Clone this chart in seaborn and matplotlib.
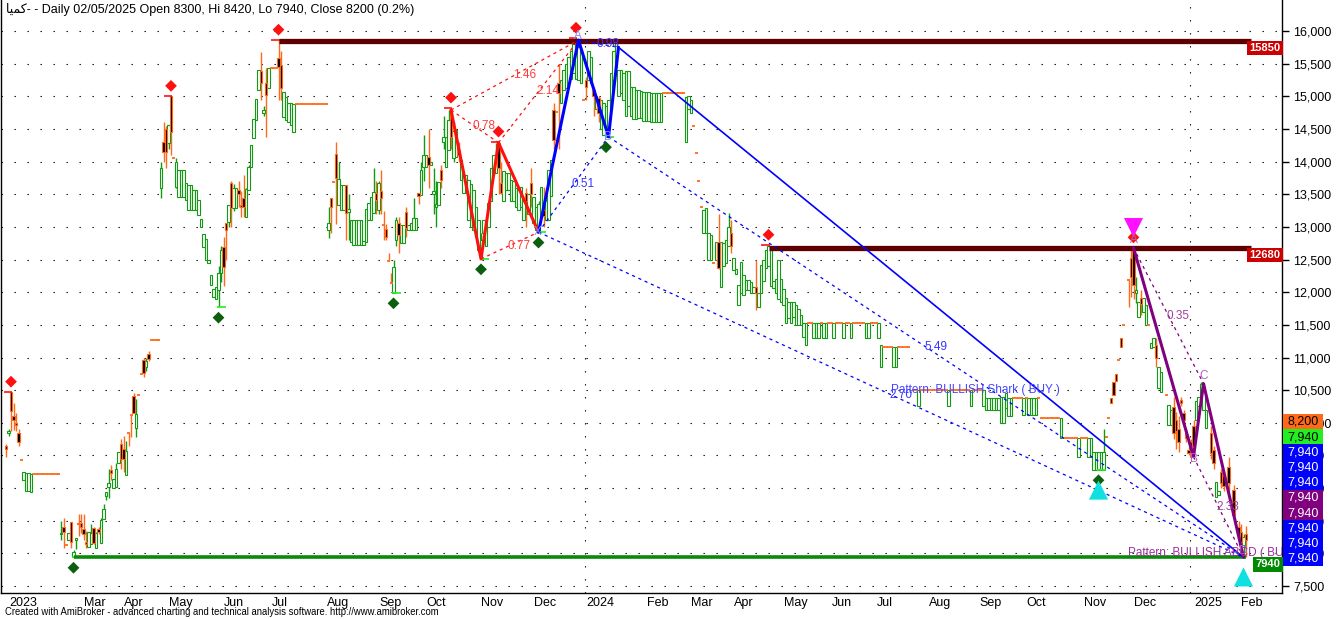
import numpy as np
import pandas as pd
import matplotlib
matplotlib.use("Agg")
import matplotlib.pyplot as plt
import seaborn as sns
from matplotlib.patches import Rectangle
from matplotlib.transforms import blended_transform_factory

sns.set_style("white")
plt.rcParams['font.family'] = ['Liberation Sans', 'DejaVu Sans']

N = np.nan
# ---------------- daily bars (bar index = trading day) ----------------
opens = [
    N, N, 9650, 9850, 10470, 10100, 9990, 9850, 9430, 9130,
    8960, 8960, 8940, 9220, 9220, 9220, 9220, 9220, 9220, 9220,
    9220, 9220, 9220, 9220, 8300, 8400, 8130, 8210, 8480, 7940,
    8200, 8470, 8470, 8380, 8180, 8100, 8150, 8390, 8090, 8370,
    8160, 8530, 8880, 9020, 9280, 9000, 9020, 9380, 9680, 9600,
    9200, 9850, 10120, 10410, 9920, 10430, 10750, 10960, 10850, 11050,
    11270, 11270, 11270, 11270, 13600, 14300, 14500, 14290, 15000, 14060,
    13610, 13460, 13460, 13460, 13410, 13260, 13260, 13260, 13260, 13180,
    13000, 12690, 12490, 12440, 12110, 11920, 11900, 12030, 12300, 12690,
    13060, 13080, 13670, 13290, 13290, 13560, 13330, 13450, 13150, 13570,
    13920, 14360, 14640, 15100, 15390, 14740, 15200, 15130, 15430, 15430,
    15430, 15590, 15480, 14690, 14640, 14600, 14560, 14450, 14880, 14880,
    14880, 14880, 14880, 14880, 14880, 14880, 14880, 14880, 14880, 14880,
    14880, 12950, 13440, 13690, 14120, 13340, 13260, 13260, 13640, 13230,
    12770, 12720, 12720, 12720, 12720, 12720, 12770, 13110, 13110, 13210,
    13520, 13260, 13550, 13030, 12970, 12480, 12140, 11990, 12800, 13060,
    12760, 12760, 13230, 12950, 12950, 12950, 12950, 13520, 13490, 13920,
    13920, 14070, 13950, 13500, 13300, 13340, 13870, 14300, 13920, 14180,
    14790, 14060, 14070, 14180, 13720, 13520, 13520, 13110, 13000, 12960,
    12850, 12650, 12530, 12900, 12700, 13000, 13400, 13820, 13820, 14290,
    13670, 13400, 13560, 13560, 13400, 13400, 13300, 13260, 13300, 13100,
    13520, 13200, 13670, 13060, 12950, 12920, 13200, 13260, 13100, 13100,
    13480, 14790, 14760, 15200, 14900, 15100, 15130, 15200, 15270, 15350,
    15270, 15250, 15200, 14940, 15250, 15250, 15200, 15100, 14800, 14970,
    14500, 14400, 14380, 14500, 14800, 15250, 15450, 15000, 15050, 14950,
    14700, 14850, 14700, 14650, 14650, 14670, 14670, 14620, 14620, 14620,
    14600, 14600, 14600, 14600, 14600, 15050, 15050, 15050, 15050, 15050,
    15050, 15050, 15050, 15050, 14300, 14800, 14740, 14550, 14130, 13700,
    13300, 12910, 12910, 12490, 12490, 12440, 12500, 12770, 12080, 12400,
    12450, 12700, 12900, 12340, 12280, 11810, 11990, 11960, 12030, 12030,
    11990, 11990, 12080, 11780, 11990, 12170, 12370, 12400, 12100, 12060,
    11990, 11900, 11850, 11800, 11530, 11600, 11530, 11620, 11500, 11500,
    11500, 11320, 11190, 11530, 11530, 11300, 11300, 11300, 11530, 11300,
    11300, 11530, 11530, 11300, 11530, 11530, 11530, 11300, 11530, 11530,
    11300, 11530, 11530, 11530, 11530, 11530, 11300, 11300, 11530, 11530,
    11530, 11300, 10850, 11160, 11160, 11160, 11160, 10850, 10850, 11160,
    11160, 11160, 11160, 11160, N, 10500, 10500, 10250, 10500, 10500,
    10500, 10500, 10500, 10500, 10500, 10500, 10500, 10500, 10500, 10250,
    10500, 10500, 10500, 10500, 10500, 10500, 10500, 10500, 10250, 10500,
    10500, 10500, 10500, 10250, 10200, 10200, 10200, 10200, 10200, 10200,
    10000, 10000, 10230, 10100, 10100, 10380, 10380, 10380, 10380, 10120,
    10380, 10120, 10120, 10120, 10120, 10380, 10070, 10070, 10070, 10070,
    10070, 10070, 10070, 10070, 9770, 9770, 9770, 9770, 9770, 9770,
    9770, 9480, 9770, 9770, 9770, 9480, 9480, 9280, 9280, 9280,
    9280, 9280, 9790, 10070, 10380, 10630, 10750, 10960, 11300, 11500,
    N, 12190, 12520, 12650, 11990, 11620, 11910, 11690, 11500, 11500,
    11150, 11160, 11190, 10540, 10470, N, 10420, 9970, 9970, 10240,
    10050, 9900, 10350, 10150, 9840, 9590, 9700, 9950, 10050, 10250,
    10350, 10200, 9920, N, 9850, 9590, 8870, 8900, 9250, 9180,
    N, 9320, N, 8970, N, 8400, 8330, 8130, 8300,
]
highs = [
    N, N, 9680, 9900, 10470, 10300, 10150, 9900, 9430, 9250,
    9230, 9230, 9220, 9220, 9220, 9220, 9220, 9220, 9220, 9220,
    9220, 9220, 9220, 9220, 8490, 8540, 8130, 8310, 8480, 8050,
    8240, 8600, 8600, 8600, 8350, 8330, 8450, 8400, 8330, 8400,
    8540, 8760, 8940, 9300, 9350, 9140, 9380, 9550, 9750, 9800,
    9720, 9850, 10120, 10450, 10370, 10430, 10750, 11000, 11000, 11100,
    11270, 11270, 11270, 11270, 14000, 14600, 14550, 14560, 15000, 14060,
    14050, 13870, 13870, 13870, 13670, 13640, 13640, 13560, 13560, 13410,
    13120, 12890, 12810, 12490, 12270, 12050, 12080, 12400, 12700, 12850,
    13060, 13340, 13700, 13650, 13600, 13700, 13550, 13800, 13600, 13950,
    14250, 14650, 14960, 15400, 15680, 14850, 15430, 15430, 15430, 15430,
    15430, 15860, 15700, 15070, 14990, 14900, 14900, 14880, 14880, 14880,
    14880, 14880, 14880, 14880, 14880, 14880, 14880, 14880, 14880, 14880,
    14880, 13300, 13440, 13690, 14300, 14000, 13640, 13640, 13640, 13500,
    13100, 13100, 13100, 13100, 13100, 12780, 13270, 13370, 13460, 13900,
    13700, 13700, 13870, 13250, 13050, 12600, 12300, 12500, 13150, 13150,
    13030, 13030, 13300, 13030, 13060, 13450, 13140, 13520, 14000, 14400,
    14100, 14500, 14000, 13900, 13700, 13690, 13950, 14700, 14380, 14790,
    14820, 14600, 14480, 14300, 14030, 13800, 13800, 13720, 13660, 13560,
    13300, 13100, 12900, 13100, 13000, 13360, 13900, 14100, 14290, 14300,
    14000, 13860, 13830, 13830, 13720, 13700, 13600, 13560, 13610, 13400,
    13600, 13500, 13900, 13460, 13300, 13400, 13610, 13610, 13410, 13870,
    14020, 14900, 14760, 15500, 15250, 15400, 15500, 15600, 15700, 15800,
    15890, 15860, 15700, 14940, 15300, 15700, 15600, 15150, 15000, 15000,
    14940, 14900, 14850, 14940, 15350, 15700, 15820, 15400, 15400, 15360,
    15380, 15380, 15150, 15150, 15100, 15100, 15080, 15060, 15060, 15060,
    15050, 15050, 15050, 15050, 15050, 15050, 15050, 15050, 15050, 15050,
    15050, 15050, 15050, 15050, 14990, 15000, 14950, 14550, 14130, 13700,
    13300, 13260, 13290, 12910, 12880, 12440, 12770, 13200, 12770, 12750,
    12800, 13220, 13100, 12530, 12350, 12110, 12470, 12260, 12190, 12180,
    12150, 12080, 12500, 11990, 12420, 12500, 12650, 12720, 12650, 12170,
    12200, 12500, 12200, 12050, 11910, 11850, 11850, 11850, 11800, 11750,
    11650, 11530, 11530, 11530, 11530, 11530, 11530, 11530, 11530, 11530,
    11530, 11530, 11530, 11530, 11530, 11530, 11530, 11530, 11530, 11530,
    11530, 11530, 11530, 11530, 11530, 11530, 11530, 11530, 11530, 11530,
    11530, 11530, 11190, 11160, 11160, 11160, 11160, 11160, 11160, 11160,
    11160, 11160, 11160, 11160, N, 10500, 10500, 10500, 10500, 10500,
    10500, 10500, 10500, 10500, 10500, 10500, 10500, 10500, 10500, 10500,
    10500, 10500, 10500, 10500, 10500, 10500, 10500, 10500, 10500, 10500,
    10500, 10500, 10500, 10500, 10380, 10380, 10380, 10380, 10380, 10380,
    10400, 10400, 10450, 10380, 10380, 10380, 10380, 10380, 10380, 10380,
    10380, 10380, 10380, 10380, 10380, 10380, 10070, 10070, 10070, 10070,
    10070, 10070, 10070, 10070, 10070, 9770, 9770, 9770, 9770, 9770,
    9770, 9770, 9770, 9770, 9770, 9770, 9770, 9550, 9550, 9550,
    9550, 9900, 9790, 10070, 10380, 10630, 10750, 10960, 11300, 11500,
    N, 12190, 12680, 12680, 12230, 11850, 12030, 11910, 11800, 11500,
    11220, 11300, 11300, 10860, 10780, N, 10420, 10270, 10200, 10400,
    10170, 10100, 10400, 10200, 9900, 9650, 9750, 10050, 10330, 10400,
    10630, 10600, 10200, N, 9950, 9650, 9100, 8950, 9300, 9250,
    N, 9480, N, 9050, N, 8500, 8450, 8300, 8420,
]
lows = [
    N, N, 9480, 9800, 9870, 9890, 9880, 9650, 9430, 9130,
    8960, 8960, 8940, 9220, 9220, 9220, 9220, 9220, 9220, 9220,
    9220, 9220, 9220, 9220, 8210, 8090, 8130, 8200, 8080, 7940,
    8060, 8270, 8320, 8200, 8090, 8100, 8150, 8150, 8090, 8300,
    8160, 8530, 8820, 8850, 9120, 9000, 9020, 9380, 9300, 9250,
    9200, 9650, 9780, 10150, 9780, 10430, 10750, 10700, 10800, 10950,
    11270, 11270, 11270, 11270, 13450, 14000, 13900, 14200, 14100, 14060,
    13600, 13460, 13460, 13460, 13410, 13260, 13260, 13260, 13260, 13180,
    13000, 12690, 12490, 12440, 12110, 11920, 11900, 11770, 12150, 12100,
    12500, 13000, 13000, 13250, 13290, 13300, 13150, 13150, 13150, 13570,
    13920, 14360, 14640, 15100, 14950, 14700, 14380, 15130, 15430, 15430,
    15430, 14950, 14950, 14690, 14640, 14600, 14560, 14450, 14880, 14880,
    14880, 14880, 14880, 14880, 14880, 14880, 14880, 14880, 14880, 14880,
    14880, 12830, 12900, 13690, 13050, 13340, 13260, 13260, 12800, 12800,
    12770, 12720, 12720, 12720, 12720, 12720, 12770, 13110, 13110, 13210,
    13200, 13200, 13200, 12800, 12800, 12480, 12140, 11990, 12700, 12600,
    12760, 12760, 12850, 12950, 12950, 12950, 12950, 13350, 13490, 13700,
    13920, 13600, 13950, 13200, 13000, 13340, 13600, 14200, 13920, 14180,
    14200, 14000, 14070, 14000, 13720, 13520, 13520, 13110, 13000, 12960,
    12850, 12650, 12510, 12900, 12700, 13000, 13400, 13820, 13820, 13500,
    13500, 13400, 13560, 13560, 13400, 13400, 13300, 13260, 13300, 13100,
    13000, 13200, 13300, 13060, 12950, 12920, 13200, 13000, 13100, 13100,
    13480, 14200, 14760, 14200, 14900, 15100, 15130, 15200, 15270, 15350,
    15270, 15250, 15200, 14940, 14950, 15250, 15200, 14700, 14800, 14600,
    14500, 14400, 14380, 14500, 14800, 15250, 15450, 15000, 15050, 14950,
    14700, 14850, 14700, 14650, 14650, 14670, 14670, 14620, 14620, 14620,
    14600, 14600, 14600, 14600, 14600, 15050, 15050, 15050, 15050, 15050,
    15050, 15050, 15050, 15050, 14300, 14800, 14740, 14550, 14130, 13700,
    13300, 12910, 12910, 12490, 12490, 12440, 12500, 12350, 12080, 12400,
    12450, 12700, 12600, 12340, 12280, 11810, 11990, 11960, 12030, 12030,
    11990, 11990, 11720, 11780, 11990, 12170, 12370, 12400, 12100, 12060,
    11990, 11900, 11850, 11800, 11530, 11600, 11530, 11620, 11500, 11500,
    11500, 11320, 11190, 11530, 11530, 11300, 11300, 11300, 11530, 11300,
    11300, 11530, 11530, 11300, 11530, 11530, 11530, 11300, 11530, 11530,
    11300, 11530, 11530, 11530, 11530, 11530, 11300, 11300, 11530, 11530,
    11530, 11300, 10850, 11160, 11160, 11160, 11160, 10850, 10850, 11160,
    11160, 11160, 11160, 11160, N, 10500, 10500, 10250, 10500, 10500,
    10500, 10500, 10500, 10500, 10500, 10500, 10500, 10500, 10500, 10250,
    10500, 10500, 10500, 10500, 10500, 10500, 10500, 10500, 10250, 10500,
    10500, 10500, 10500, 10250, 10200, 10200, 10200, 10200, 10200, 10200,
    10000, 10000, 10230, 10100, 10100, 10380, 10380, 10380, 10380, 10120,
    10380, 10120, 10120, 10120, 10120, 10380, 10070, 10070, 10070, 10070,
    10070, 10070, 10070, 10070, 9770, 9770, 9770, 9770, 9770, 9770,
    9770, 9480, 9770, 9770, 9770, 9480, 9480, 9280, 9280, 9280,
    9280, 9280, 9790, 10070, 10300, 10430, 10640, 10960, 11160, 11500,
    N, 11780, 11920, 11900, 11830, 11620, 11650, 11690, 11500, 11500,
    11150, 11160, 10850, 10540, 10470, N, 10420, 9970, 9970, 9750,
    9600, 9550, 10250, 9950, 9700, 9500, 9480, 9550, 10050, 10250,
    10350, 10200, 9920, N, 9450, 9300, 8870, 8900, 9000, 8950,
    N, 8950, N, 8550, N, 8250, 8100, 7940, 7940,
]
closes = [
    N, N, 9600, 9880, 10180, 10050, 9960, 9710, 9430, 9250,
    9230, 9230, 9220, 9220, 9220, 9220, 9220, 9220, 9220, 9220,
    9220, 9220, 9220, 9220, 8320, 8330, 8130, 8310, 8180, 8020,
    8240, 8450, 8400, 8300, 8150, 8330, 8320, 8160, 8310, 8330,
    8510, 8680, 8940, 9080, 9230, 9140, 9290, 9550, 9450, 9450,
    9570, 9850, 10120, 10150, 10140, 10430, 10750, 10760, 10950, 10980,
    11270, 11270, 11270, 11270, 13900, 14150, 14150, 14560, 14450, 14060,
    14000, 13870, 13870, 13870, 13670, 13640, 13640, 13560, 13560, 13410,
    13120, 12890, 12810, 12490, 12270, 12050, 12080, 12300, 12650, 12390,
    12950, 13340, 13290, 13600, 13600, 13500, 13300, 13300, 13580, 13920,
    14250, 14650, 14960, 15400, 15200, 14790, 15020, 15430, 15430, 15430,
    15430, 15450, 15130, 15070, 14990, 14900, 14900, 14880, 14880, 14880,
    14880, 14880, 14880, 14880, 14880, 14880, 14880, 14880, 14880, 14880,
    14880, 13060, 13300, 13690, 13750, 13730, 13640, 13640, 13210, 13270,
    13100, 13100, 13100, 13100, 13100, 12780, 13270, 13370, 13460, 13540,
    13410, 13670, 13450, 13030, 12850, 12480, 12140, 12390, 13100, 12880,
    13030, 13030, 12980, 13030, 13060, 13140, 13140, 13470, 13870, 14100,
    14100, 13950, 14000, 13550, 13350, 13690, 13720, 14380, 14380, 14640,
    14380, 14470, 14480, 14100, 14030, 13800, 13800, 13720, 13660, 13560,
    13300, 13100, 12800, 13100, 13000, 13360, 13900, 14100, 14100, 13900,
    13520, 13860, 13830, 13830, 13720, 13700, 13600, 13560, 13610, 13400,
    13400, 13500, 13500, 13460, 13300, 13350, 13610, 13160, 13410, 13870,
    14020, 14330, 14760, 15050, 15250, 15400, 15500, 15600, 15700, 15800,
    15780, 15750, 15700, 14940, 15140, 15700, 15600, 15000, 15000, 14740,
    14940, 14900, 14850, 14940, 15350, 15700, 15820, 15400, 15400, 15360,
    15380, 15380, 15150, 15150, 15100, 15100, 15080, 15060, 15060, 15060,
    15050, 15050, 15050, 15050, 15050, 15050, 15050, 15050, 15050, 15050,
    15050, 15050, 15050, 15050, 14990, 15000, 14950, 14550, 14130, 13700,
    13300, 13260, 13290, 12910, 12880, 12440, 12770, 12370, 12770, 12750,
    12800, 13000, 12700, 12530, 12350, 12110, 12470, 12260, 12190, 12180,
    12150, 12080, 11990, 11990, 12420, 12500, 12650, 12700, 12650, 12170,
    12200, 12500, 12200, 12050, 11910, 11850, 11850, 11850, 11800, 11750,
    11650, 11530, 11530, 11530, 11530, 11530, 11530, 11530, 11530, 11530,
    11530, 11530, 11530, 11530, 11530, 11530, 11530, 11530, 11530, 11530,
    11530, 11530, 11530, 11530, 11530, 11530, 11530, 11530, 11530, 11530,
    11530, 11530, 11190, 11160, 11160, 11160, 11160, 11160, 11160, 11160,
    11160, 11160, 11160, 11160, N, 10500, 10500, 10500, 10500, 10500,
    10500, 10500, 10500, 10500, 10500, 10500, 10500, 10500, 10500, 10500,
    10500, 10500, 10500, 10500, 10500, 10500, 10500, 10500, 10500, 10500,
    10500, 10500, 10500, 10500, 10380, 10380, 10380, 10380, 10380, 10380,
    10400, 10400, 10450, 10380, 10380, 10380, 10380, 10380, 10380, 10380,
    10380, 10380, 10380, 10380, 10380, 10380, 10070, 10070, 10070, 10070,
    10070, 10070, 10070, 10070, 10070, 9770, 9770, 9770, 9770, 9770,
    9770, 9770, 9770, 9770, 9770, 9770, 9770, 9550, 9550, 9550,
    9550, 9550, 9790, 10070, 10300, 10430, 10640, 10960, 11160, 11500,
    N, 12190, 12230, 12110, 12030, 11850, 11820, 11910, 11800, 11500,
    11220, 11300, 11000, 10860, 10780, N, 10420, 10270, 10200, 9840,
    9880, 9700, 10300, 10040, 9760, 9540, 9480, 9650, 10330, 10400,
    10600, 10550, 10200, N, 9540, 9380, 9100, 8950, 9080, 9030,
    N, 9080, N, 8590, N, 8280, 8180, 8250, 8200,
]

# x-axis month starts (bar index) and labels
month_pos = [2, 32, 48, 66, 88, 107, 129, 150, 169, 191, 212, 233, 257, 275,
             292, 312, 331, 349, 370, 390, 409, 432, 452, 476, 495]
month_labels = ["2023", "Mar", "Apr", "May", "Jun", "Jul", "Aug", "Sep", "Oct",
                "Nov", "Dec", "2024", "Feb", "Mar", "Apr", "May", "Jun", "Jul",
                "Aug", "Sep", "Oct", "Nov", "Dec", "2025", "Feb"]
year_pos = [233.4, 475.6]
price_ticks = list(range(7500, 16001, 500))

# swing pivots
peak_idx = [4, 68, 111, 180, 199, 230, 307, 453]
trough_idx = [29, 87, 157, 192, 215, 242, 439]

# support / resistance levels
resist_levels = [15850, 12680]
resist_start = [111, 307]
support_level = 7940
support_start = 29

# harmonic patterns (X, A, B, C, D)
red_idx = [180, 192, 199, 215, 231]
red_px = [14790, 12510, 14290, 12920, 15860]
red_ratios = ["0.78", "0.77", "2.14", "1.46"]
blue_idx = [215, 231, 243, 247, 497]
blue_px = [12920, 15860, 14380, 15750, 7940]
blue_ratios = ["0.51", "0.98", "5.49", "2.70"]
abcd_idx = [453, 477, 481, 497]
abcd_px = [12680, 9480, 10600, 7940]
abcd_ratios = ["0.35", "2.33"]

# ---------------- figure ----------------
W, H = 1336, 619
fig = plt.figure(figsize=(W / 100, H / 100), dpi=100)
fig.patch.set_facecolor("white")
ax = fig.add_axes([1 / W, 26 / H, 1281 / W, 593 / H])
ax.set_facecolor("white")
ax.set_xlim(0, 512.4)
ax.set_ylim(7393.6, 16474.7)

GREEN = "#139A13"
ORANGE = "#FF6A1A"
MAROON = "#5E0000"
SUPPORT = "#0A8A0A"
BLUE = "#0000FF"
RED = "#FF1010"
PURPLE = "#800080"

# grid
dots = (0, (1.2, 10.5))
for p in price_ticks:
    ax.axhline(p, color="black", lw=0.8, ls=dots, zorder=0)
for xp in year_pos:
    ax.axvline(xp, color="black", lw=0.8, ls=dots, zorder=0)

# candles
df = pd.DataFrame({"o": opens, "h": highs, "l": lows, "c": closes})
df["i"] = np.arange(len(df))
df = df.dropna()
up = df[df.c > df.o]
dn = df[df.c < df.o]
fl = df[df.c == df.o]
ax.vlines(up.i, up.l, up.h, color=GREEN, lw=1.0, zorder=2)
ax.vlines(dn.i, dn.l, dn.h, color=ORANGE, lw=1.0, zorder=2)
flw = fl[fl.h > fl.l]
ax.vlines(flw.i, flw.l, flw.h, color=ORANGE, lw=1.0, zorder=2)
ax.bar(up.i, up.c - up.o, bottom=up.o, width=1.12, facecolor="white",
       edgecolor=GREEN, lw=0.8, zorder=2.1)
ax.bar(dn.i, dn.o - dn.c, bottom=dn.c, width=1.12, facecolor="black",
       edgecolor=ORANGE, lw=0.8, zorder=2.1)
ax.hlines(fl.c, fl.i - 0.6, fl.i + 0.6, color=ORANGE, lw=1.3, zorder=2.1)

hi = np.array(highs, dtype=float)
lo = np.array(lows, dtype=float)

# pivot ticks and markers
for k in peak_idx:
    ax.hlines(hi[k], k - 3, k + 0.5, color=RED, lw=1.2, zorder=3)
for k in trough_idx:
    ax.hlines(lo[k], k - 0.5, k + 3, color="#22EE22", lw=1.2, zorder=3)
sns.scatterplot(x=peak_idx, y=hi[peak_idx] + 160, marker="D", s=36, color=RED,
                edgecolor="none", ax=ax, zorder=6, legend=False)
sns.scatterplot(x=trough_idx, y=lo[trough_idx] - 160, marker="D", s=36,
                color="#0B5E0B", edgecolor="none", ax=ax, zorder=6, legend=False)

# support / resistance
for lvl, st in zip(resist_levels, resist_start):
    ax.hlines(lvl, st, 500, color=MAROON, lw=3.8, zorder=4)
ax.hlines(support_level, support_start, 498, color=SUPPORT, lw=2.6, zorder=4)
bt = blended_transform_factory(ax.transAxes, ax.transData)
for lvl in resist_levels:
    ax.text(0.9988, lvl - 30, f"{lvl}", transform=bt, ha="right", va="top",
            fontsize=8, fontweight="bold", color="white", zorder=10,
            bbox=dict(boxstyle="square,pad=0.2", fc="#CC0000", ec="none"))
ax.text(0.9988, support_level - 30, f"{support_level}", transform=bt, ha="right",
        va="top", fontsize=8, fontweight="bold", color="white", zorder=10,
        bbox=dict(boxstyle="square,pad=0.2", fc="#008A00", ec="none"))

# pattern drawing helpers
pairs = [(0, 2), (1, 3), (2, 4), (0, 4)]


def ratio_lines(idx, px, ratios, color, tcolor, prs):
    for (a, b), r in zip(prs, ratios):
        ax.plot([idx[a], idx[b]], [px[a], px[b]], color=color, lw=0.9,
                ls=(0, (2.5, 3)), zorder=5)
        ax.annotate(r, ((idx[a] + idx[b]) / 2, (px[a] + px[b]) / 2),
                    xytext=(-2, 0), textcoords="offset pixels", ha="left",
                    va="center", fontsize=8.5, color=tcolor, zorder=7)


ratio_lines(red_idx, red_px, red_ratios, RED, "#FF3B3B", pairs)
ratio_lines(blue_idx, blue_px, blue_ratios, BLUE, "#3535FF", pairs)
ratio_lines(abcd_idx, abcd_px, abcd_ratios, PURPLE, "#A040A0", [(0, 2), (1, 3)])

sns.lineplot(x=red_idx[:4], y=red_px[:4], sort=False, color=RED, lw=2.2,
             ax=ax, zorder=6, legend=False)
sns.lineplot(x=blue_idx[:4], y=blue_px[:4], sort=False, color=BLUE, lw=2.2,
             ax=ax, zorder=6, legend=False)
sns.lineplot(x=blue_idx[3:], y=blue_px[3:], sort=False, color=BLUE, lw=1.2,
             ax=ax, zorder=6, legend=False)
sns.lineplot(x=abcd_idx, y=abcd_px, sort=False, color=PURPLE, lw=2.2,
             ax=ax, zorder=6, legend=False)

for lab, k, v, dy in zip("XAB", blue_idx[:3], blue_px[:3], [0, 4, 0]):
    ax.annotate(lab, (k, v), xytext=(-1, dy), textcoords="offset pixels",
                ha="center", va="center", fontsize=8.5, color="#8A8AFF", zorder=7)
for lab, k, v, dy in zip("ABCD", abcd_idx, abcd_px, [8, -2, 8, 6]):
    ax.annotate(lab, (k, v), xytext=(0, dy), textcoords="offset pixels",
                ha="center", va="center", fontsize=8.5, color="#B060C0", zorder=7)

# signal triangles
sns.scatterplot(x=[trough_idx[-1], abcd_idx[-1]],
                y=[lo[trough_idx[-1]] - 310, lo[abcd_idx[-1]] - 300],
                marker="^", s=190, color="#10E0E0", edgecolor="none", ax=ax,
                zorder=6, legend=False)
sns.scatterplot(x=[abcd_idx[0]], y=[hi[abcd_idx[0]] + 310], marker="v", s=190,
                color="#FF10FF", edgecolor="none", ax=ax, zorder=6, legend=False)

ax.text(blue_idx[0] + (blue_idx[4] - blue_idx[0]) / 2, 10500,
        "Pattern: BULLISH Shark ( BUY )", ha="left", va="center", fontsize=8.5,
        color="#4545FF", zorder=7)
ax.text(451, 8010, "Pattern: BULLISH ABCD ( BUY )", ha="left", va="center",
        fontsize=8.5, color="#9A309A", zorder=7, clip_on=True)

# axes styling
ax.spines["top"].set_visible(False)
for s in ["left", "right", "bottom"]:
    ax.spines[s].set_color("black")
    ax.spines[s].set_linewidth(1.0)
ax.yaxis.tick_right()
ax.set_yticks(price_ticks)
ax.set_yticklabels([f"{p:,}" for p in price_ticks])
ax.tick_params(axis="y", direction="out", length=5, width=1, pad=3,
               labelsize=9, colors="black")
ax.set_xticks(month_pos)
ax.set_xticklabels([""] * len(month_pos))
ax.tick_params(axis="x", direction="out", length=8, width=1)
xt = blended_transform_factory(ax.transData, ax.transAxes)
for p, lab in zip(month_pos, month_labels):
    ax.annotate(lab, (p, 0), xycoords=xt, xytext=(3, -4),
                textcoords="offset pixels", ha="left", va="top",
                fontsize=9, color="black", annotation_clip=False)
ax.set_xlabel("")
ax.set_ylabel("")

# right-hand last-value stack
last_close = closes[-1]
last_low = lows[-1]
stack_vals = [last_close] + [last_low] * 9
stack_fc = [ORANGE, "#22EE22", BLUE, BLUE, BLUE, PURPLE, PURPLE, BLUE, BLUE, BLUE]
stack_tc = ["black", "black", "white", "white", "white", "white", "white",
            "white", "white", "white"]
for k, (v, fc, tc) in enumerate(zip(stack_vals, stack_fc, stack_tc)):
    top = 414 + 15.2 * k
    fig.add_artist(Rectangle((1283 / W, 1 - (top + 15.2) / H), 40 / W, 15.2 / H,
                             transform=fig.transFigure, fc=fc, ec="none", zorder=5))
    fig.text(1303 / W, 1 - (top + 7.8) / H, f"{v:,.0f}", ha="center", va="center",
             fontsize=9, color=tc, zorder=6)

title = ("\uFE8E\uFEF4\uFEE4\uFEDB- - Daily 02/05/2025 Open 8300, Hi 8420, "
         "Lo 7940, Close 8200 (0.2%)")
fig.text(6 / W, 1 - 9 / H, title, ha="left", va="center", fontsize=9,
         color="black", family=["Liberation Sans", "DejaVu Sans"])
fig.text(5 / W, 1 - 612 / H,
         "Created with AmiBroker - advanced charting and technical analysis "
         "software. http://www.amibroker.com",
         ha="left", va="center", fontsize=6.85, color="black")

fig.savefig("out.png", dpi=100, facecolor="white")
